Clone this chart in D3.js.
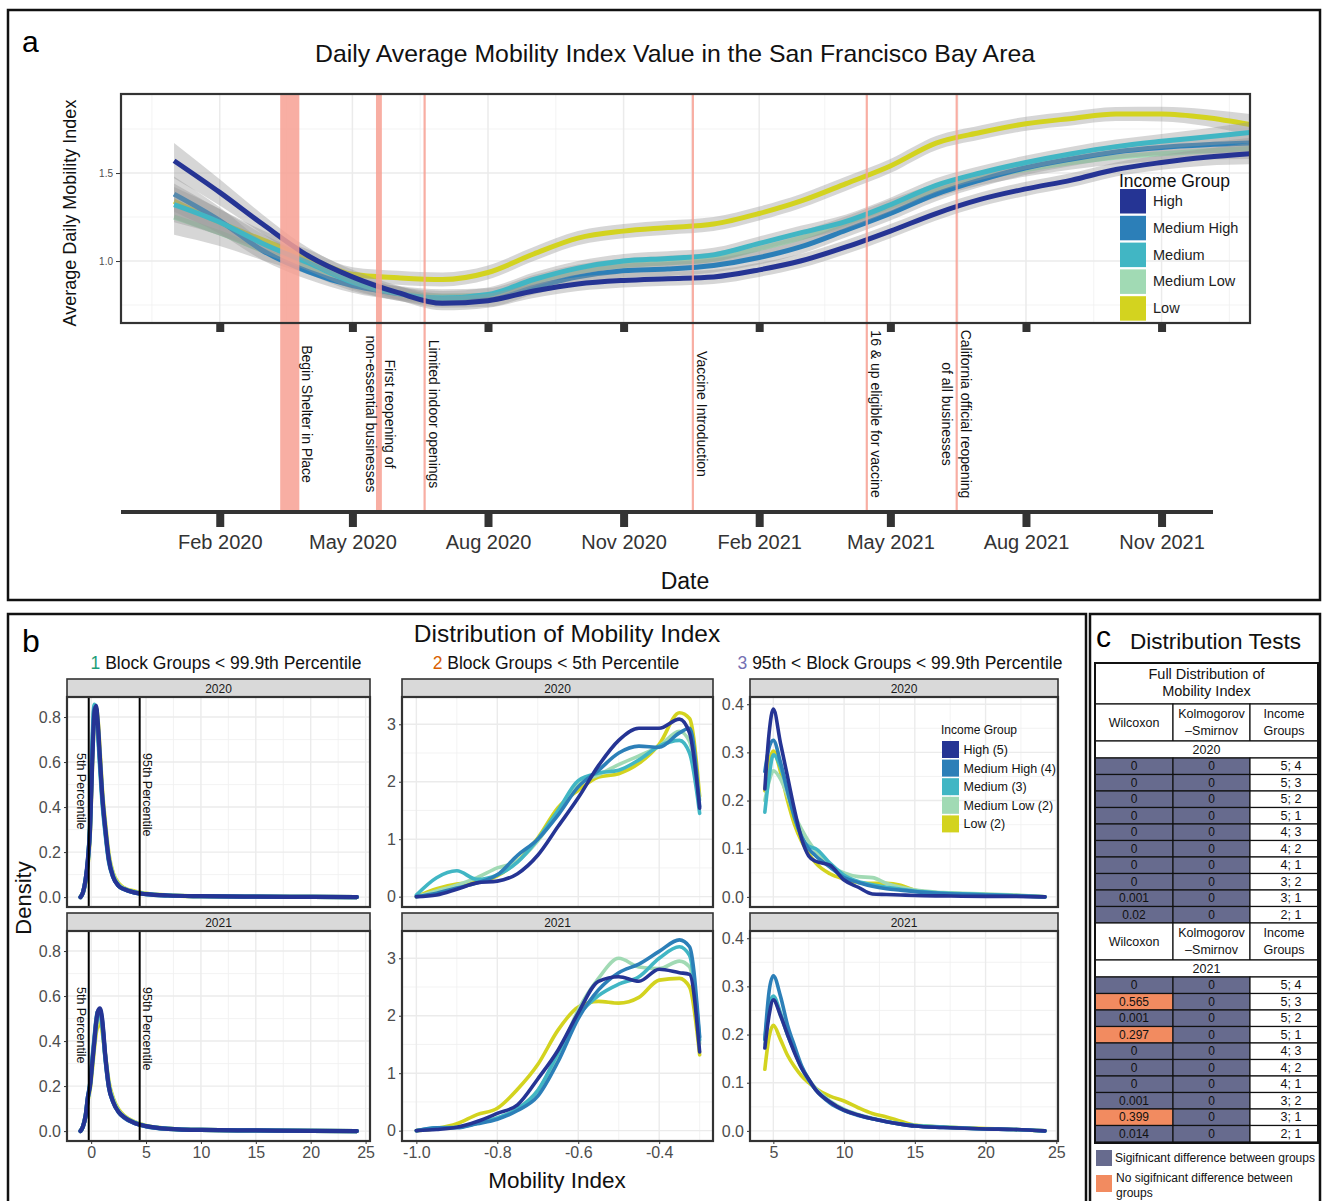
<!DOCTYPE html>
<html>
<head>
<meta charset="utf-8">
<script src="https://cdn.jsdelivr.net/npm/d3@7"></script>
<style>
body{margin:0;background:#fff}
text{font-family:"Liberation Sans",Arial,Helvetica,sans-serif}
</style>
</head>
<body>
<svg id="fig" width="1322" height="1201"></svg>
<script>
// ---------- shared ----------
var groups=["High","Medium High","Medium","Medium Low","Low"]
var groupColors=["#253494","#2c7fb8","#41b6c4","#a1dab4","#d3d31f"]
var groupLabelsB=["High (5)","Medium High (4)","Medium (3)","Medium Low (2)","Low (2)"]

// ---------- panel a : smoothed daily mobility ----------
var mobDates=["2020-01-01","2020-02-01","2020-03-01","2020-04-01","2020-05-01","2020-06-01","2020-07-01","2020-08-01","2020-09-01","2020-10-01","2020-11-01","2020-12-01",
  "2021-01-01","2021-02-01","2021-03-01","2021-04-01","2021-05-01","2021-06-01","2021-07-01","2021-08-01","2021-09-01","2021-10-01","2021-11-01","2021-12-01","2021-12-31"]
var mobHigh=[1.57,1.39,1.21,1.03,0.91,0.82,0.76,0.775,0.83,0.87,0.89,0.90,0.91,0.95,1.00,1.08,1.17,1.27,1.35,1.41,1.46,1.52,1.56,1.59,1.61]
var mobMedHigh=[1.38,1.23,1.06,0.94,0.86,0.815,0.775,0.78,0.85,0.91,0.945,0.955,0.975,1.02,1.08,1.175,1.27,1.38,1.46,1.53,1.58,1.62,1.645,1.66,1.67]
var mobMed=[1.32,1.22,1.10,0.99,0.88,0.815,0.79,0.81,0.895,0.96,1.00,1.015,1.035,1.10,1.16,1.225,1.32,1.43,1.50,1.56,1.61,1.65,1.68,1.705,1.73]
var mobMedLow=[1.25,1.16,1.06,0.97,0.87,0.82,0.80,0.805,0.88,0.94,0.975,0.99,1.01,1.07,1.13,1.215,1.31,1.40,1.47,1.52,1.56,1.59,1.61,1.625,1.64]
var mobLow=[1.34,1.22,1.12,1.02,0.925,0.905,0.895,0.935,1.04,1.13,1.17,1.19,1.21,1.27,1.34,1.44,1.54,1.67,1.73,1.78,1.81,1.835,1.835,1.815,1.775]
var mobCI=[0.10,0.075,0.055,0.045,0.04,0.04,0.04,0.04,0.04,0.04,0.04,0.04,0.04,0.04,0.04,0.04,0.04,0.04,0.04,0.04,0.04,0.04,0.042,0.048,0.06]
var mobYTicks=[1.0,1.5]
var dateTicks=["2020-02-01","2020-05-01","2020-08-01","2020-11-01","2021-02-01","2021-05-01","2021-08-01","2021-11-01"]
var dateTickLabels=["Feb 2020","May 2020","Aug 2020","Nov 2020","Feb 2021","May 2021","Aug 2021","Nov 2021"]
var eventStart=["2020-03-13","2020-05-17","2020-06-19","2020-12-18","2021-04-15","2021-06-15"]
var eventEnd=["2020-03-26","2020-05-21","2020-06-19","2020-12-18","2021-04-15","2021-06-15"]
var eventLabels=[["Begin Shelter in Place"],["First reopening of","non-essential businesses"],["Limited indoor openings"],["Vaccine Introduction"],["16 & up eligible for vaccine"],["California official reopening","of all businesses"]]

// ---------- panel b : densities (series order = groups) ----------
var d1x=[-0.97,-0.75,-0.5,-0.3,-0.1,0.1,0.3,0.45,0.6,0.8,1.0,1.3,1.6,2.0,2.5,3.0,4.0,5.0,7.0,10,15,20,24.2]
var d1y2020=[
 [0,0.02,0.08,0.17,0.30,0.60,0.82,0.85,0.78,0.62,0.46,0.30,0.17,0.09,0.05,0.035,0.02,0.013,0.007,0.004,0.002,0.001,0],
 [0,0.02,0.08,0.16,0.31,0.63,0.84,0.84,0.76,0.60,0.45,0.29,0.17,0.09,0.05,0.035,0.02,0.013,0.007,0.004,0.002,0.001,0],
 [0,0.02,0.08,0.16,0.33,0.67,0.855,0.83,0.74,0.58,0.43,0.28,0.16,0.09,0.05,0.035,0.02,0.013,0.007,0.004,0.002,0.001,0],
 [0,0.02,0.08,0.16,0.31,0.64,0.84,0.83,0.76,0.61,0.46,0.30,0.18,0.10,0.055,0.038,0.022,0.014,0.008,0.004,0.002,0.001,0],
 [0,0.02,0.07,0.15,0.29,0.60,0.82,0.84,0.79,0.64,0.48,0.32,0.19,0.105,0.06,0.04,0.025,0.016,0.008,0.004,0.002,0.001,0]]
var d1y2021=[
 [0,0.02,0.07,0.15,0.20,0.30,0.40,0.48,0.53,0.545,0.50,0.33,0.20,0.13,0.085,0.062,0.035,0.022,0.010,0.005,0.003,0.001,0],
 [0,0.02,0.07,0.15,0.21,0.31,0.41,0.48,0.53,0.54,0.49,0.32,0.20,0.13,0.085,0.06,0.035,0.021,0.010,0.005,0.003,0.001,0],
 [0,0.02,0.07,0.15,0.21,0.32,0.42,0.49,0.53,0.53,0.48,0.32,0.20,0.13,0.085,0.062,0.036,0.022,0.010,0.005,0.003,0.001,0],
 [0,0.02,0.07,0.14,0.20,0.30,0.40,0.46,0.50,0.51,0.47,0.33,0.21,0.14,0.09,0.065,0.038,0.023,0.011,0.005,0.003,0.001,0],
 [0,0.02,0.07,0.14,0.19,0.28,0.38,0.44,0.47,0.48,0.45,0.33,0.22,0.145,0.095,0.068,0.04,0.024,0.011,0.005,0.003,0.001,0]]
var d2x=[-1.0,-0.95,-0.9,-0.85,-0.8,-0.75,-0.7,-0.65,-0.6,-0.55,-0.5,-0.45,-0.4,-0.35,-0.325,-0.3]
var d2y2020=[
 [0,0.03,0.13,0.24,0.27,0.40,0.72,1.22,1.72,2.28,2.72,2.93,2.93,3.09,2.85,1.54],
 [0,0.06,0.15,0.24,0.38,0.72,1.0,1.42,1.91,2.2,2.5,2.62,2.6,2.85,2.93,1.57],
 [0.03,0.33,0.45,0.3,0.38,0.6,1.0,1.5,2.02,2.15,2.2,2.38,2.62,2.72,2.5,1.45],
 [0,0.1,0.2,0.33,0.5,0.62,0.97,1.47,1.95,2.12,2.3,2.45,2.62,2.88,2.7,1.68],
 [0,0.14,0.22,0.25,0.36,0.62,1.02,1.55,1.85,2.08,2.14,2.32,2.65,3.2,3.1,1.75]]
var d2y2021=[
 [0,0.02,0.06,0.16,0.3,0.45,0.9,1.4,2.05,2.6,2.68,2.6,2.81,2.75,2.72,1.37],
 [0,0.05,0.05,0.12,0.2,0.35,0.6,1.2,1.95,2.45,2.75,2.9,3.12,3.32,3.2,1.63],
 [0,0.05,0.06,0.13,0.22,0.38,0.7,1.35,2.0,2.35,2.55,2.68,3.0,3.2,3.05,1.58],
 [0,0.04,0.06,0.13,0.22,0.38,0.7,1.3,2.1,2.65,3.0,2.85,2.82,2.95,2.85,1.52],
 [0,0.04,0.12,0.28,0.39,0.72,1.15,1.75,2.15,2.25,2.22,2.32,2.62,2.65,2.5,1.32]]
var d3x=[4.4,4.7,5.0,5.5,6,6.5,7,7.5,8,9,10,11,12,13,14,15,17,20,22,24.2]
var d3y2020=[
 [0.224,0.34,0.39,0.32,0.25,0.18,0.12,0.085,0.074,0.066,0.035,0.02,0.006,0.005,0.004,0.003,0.002,0.001,0.001,0],
 [0.26,0.31,0.325,0.28,0.22,0.165,0.125,0.1,0.085,0.062,0.04,0.03,0.022,0.017,0.014,0.011,0.007,0.004,0.002,0],
 [0.176,0.25,0.295,0.27,0.22,0.165,0.125,0.105,0.1,0.07,0.045,0.032,0.025,0.02,0.016,0.012,0.008,0.005,0.003,0],
 [0.2,0.24,0.262,0.245,0.21,0.17,0.14,0.115,0.095,0.065,0.05,0.042,0.04,0.028,0.02,0.014,0.009,0.006,0.004,0],
 [0.22,0.28,0.303,0.26,0.2,0.15,0.115,0.09,0.07,0.048,0.037,0.03,0.028,0.028,0.024,0.014,0.008,0.005,0.003,0]]
var d3y2021=[
 [0.172,0.24,0.272,0.24,0.2,0.162,0.13,0.107,0.085,0.06,0.043,0.033,0.025,0.019,0.014,0.01,0.007,0.004,0.003,0],
 [0.19,0.29,0.322,0.28,0.22,0.176,0.135,0.107,0.085,0.058,0.042,0.032,0.025,0.019,0.014,0.01,0.007,0.004,0.003,0],
 [0.19,0.26,0.28,0.245,0.2,0.165,0.13,0.105,0.085,0.06,0.043,0.033,0.025,0.019,0.014,0.011,0.008,0.004,0.003,0],
 [0.18,0.25,0.275,0.24,0.2,0.165,0.132,0.107,0.088,0.062,0.045,0.034,0.026,0.02,0.015,0.011,0.008,0.004,0.003,0],
 [0.128,0.195,0.219,0.19,0.157,0.133,0.114,0.1,0.088,0.072,0.062,0.048,0.036,0.029,0.02,0.012,0.008,0.005,0.003,0]]
var d1XTicks=[0,5,10,15,20,25], d1YTicks=[0,0.2,0.4,0.6,0.8]
var d2XTicks=[-1.0,-0.8,-0.6,-0.4], d2YTicks=[0,1,2,3]
var d3XTicks=[5,10,15,20,25], d3YTicks=[0,0.1,0.2,0.3,0.4]
var colNums=["1","2","3"]
var colNumColors=["#1b9e77","#d95f02","#7570b3"]
var colTitles=[" Block Groups < 99.9th Percentile"," Block Groups < 5th Percentile"," 95th < Block Groups < 99.9th Percentile"]
var years=["2020","2021"]
var pctValues=[-0.22,4.42]
var pctLabels=["5th Percentile","95th Percentile"]

// ---------- panel c : tests ----------
var pairs=["5; 4","5; 3","5; 2","5; 1","4; 3","4; 2","4; 1","3; 2","3; 1","2; 1"]
var wil2020=["0","0","0","0","0","0","0","0","0.001","0.02"]
var ks2020=["0","0","0","0","0","0","0","0","0","0"]
var wil2021=["0","0.565","0.001","0.297","0","0","0","0.001","0.399","0.014"]
var ks2021=["0","0","0","0","0","0","0","0","0","0"]

var svg=d3.select("#fig")
var parse=d3.timeParse("%Y-%m-%d")

// frames
svg.append("rect").attr("x",8).attr("y",10).attr("width",1312).attr("height",590).attr("fill","none").attr("stroke","#111").attr("stroke-width",2.5)
svg.append("rect").attr("x",8).attr("y",614).attr("width",1078).attr("height",600).attr("fill","none").attr("stroke","#111").attr("stroke-width",2.5)
svg.append("rect").attr("x",1090).attr("y",614).attr("width",230).attr("height",600).attr("fill","none").attr("stroke","#111").attr("stroke-width",2.5)

// ================= PANEL A =================
var xA=d3.scaleTime().domain([parse("2019-11-26"),parse("2021-12-31")]).range([121,1250])
var yA=d3.scaleLinear().domain([0.648,1.949]).range([323,94])
var ga=svg.append("g")
ga.append("text").attr("x",22).attr("y",52).attr("font-size",30).text("a")
ga.append("text").attr("x",675).attr("y",62).attr("text-anchor","middle").attr("font-size",24.8).attr("fill","#111")
  .text("Daily Average Mobility Index Value in the San Francisco Bay Area")

ga.append("defs").append("clipPath").attr("id","clipA").append("rect")
  .attr("x",121).attr("y",94).attr("width",1129).attr("height",229)
var plotA=ga.append("g").attr("clip-path","url(#clipA)")
plotA.append("rect").attr("x",121).attr("y",94).attr("width",1129).attr("height",229).attr("fill","#fff")

// grid
var tickD=dateTicks.map(parse)
var ext=[d3.timeMonth.offset(tickD[0],-3)].concat(tickD,[d3.timeMonth.offset(tickD[tickD.length-1],3)])
var minorD=[]
for(var i=0;i<ext.length-1;i++) minorD.push(new Date((+ext[i]+ +ext[i+1])/2))
plotA.selectAll(".vmin").data(minorD).enter().append("line")
  .attr("x1",d=>xA(d)).attr("x2",d=>xA(d)).attr("y1",94).attr("y2",323).attr("stroke","#f0f0f0").attr("stroke-width",0.8)
plotA.selectAll(".hmin").data([0.75,1.25,1.75]).enter().append("line")
  .attr("x1",121).attr("x2",1250).attr("y1",d=>yA(d)).attr("y2",d=>yA(d)).attr("stroke","#f0f0f0").attr("stroke-width",0.8)
plotA.selectAll(".vmaj").data(tickD).enter().append("line")
  .attr("x1",d=>xA(d)).attr("x2",d=>xA(d)).attr("y1",94).attr("y2",323).attr("stroke","#ebebeb").attr("stroke-width",1.5)
plotA.selectAll(".hmaj").data(mobYTicks).enter().append("line")
  .attr("x1",121).attr("x2",1250).attr("y1",d=>yA(d)).attr("y2",d=>yA(d)).attr("stroke","#ebebeb").attr("stroke-width",1.5)

// event lines (under the curves, extend down to lower axis)
var evG=ga.append("g")
eventStart.forEach(function(s,i){
  var x0=xA(parse(s)), x1=xA(parse(eventEnd[i]))
  var w=Math.max(x1-x0,2.2)
  evG.append("rect").attr("x",(x0+x1)/2-w/2).attr("y",94).attr("width",w).attr("height",418)
    .attr("fill","#f7a093").attr("opacity",0.85)
})

var mobSeries=[mobHigh,mobMedHigh,mobMed,mobMedLow,mobLow]
var mDates=mobDates.map(parse)
var area=d3.area().x((d,i)=>xA(mDates[i])).y0((d,i)=>yA(d-mobCI[i])).y1((d,i)=>yA(d+mobCI[i])).curve(d3.curveMonotoneX)
var lineA=d3.line().x((d,i)=>xA(mDates[i])).y(d=>yA(d)).curve(d3.curveMonotoneX)
;[3,4,1,2,0].forEach(function(k){
  plotA.append("path").datum(mobSeries[k]).attr("d",area).attr("fill","#999").attr("opacity",0.4)
  plotA.append("path").datum(mobSeries[k]).attr("d",lineA).attr("fill","none")
    .attr("stroke",groupColors[k]).attr("stroke-width",5)
})

// legend
ga.append("text").attr("x",1119).attr("y",187).attr("font-size",17.5).attr("fill","#111").text("Income Group")
groups.forEach(function(g,i){
  var y=189+i*26.8
  ga.append("rect").attr("x",1120).attr("y",y).attr("width",26).attr("height",24.5).attr("fill",groupColors[i])
  ga.append("text").attr("x",1153).attr("y",y+17).attr("font-size",14.5).attr("fill","#222").text(g)
})

ga.append("rect").attr("x",121).attr("y",94).attr("width",1129).attr("height",229).attr("fill","none").attr("stroke","#333").attr("stroke-width",2.2)

// y axis
var yAx=ga.append("g").attr("transform","translate(121,0)")
  .call(d3.axisLeft(yA).tickValues(mobYTicks).tickSize(5).tickPadding(3).tickFormat(d3.format(".1f")))
yAx.select(".domain").remove()
yAx.selectAll("line").attr("stroke","#333")
yAx.selectAll("text").attr("font-size",10).attr("fill","#4d4d4d").attr("font-family",null)
ga.append("text").attr("transform","translate(76,213) rotate(-90)").attr("text-anchor","middle")
  .attr("font-size",18).attr("fill","#111").text("Average Daily Mobility Index")

// ticks right under plot
var topTicks=ga.append("g").attr("transform","translate(0,323)")
  .call(d3.axisBottom(xA).tickValues(tickD).tickSize(9).tickFormat(""))
topTicks.select(".domain").remove()
topTicks.selectAll("line").attr("stroke","#333").attr("stroke-width",8)

// lower date axis
ga.append("line").attr("x1",121).attr("x2",1213).attr("y1",512).attr("y2",512).attr("stroke","#333").attr("stroke-width",4)
var botAx=ga.append("g").attr("transform","translate(0,512)")
  .call(d3.axisBottom(xA).tickValues(tickD).tickSize(15).tickPadding(8).tickFormat((d,i)=>dateTickLabels[i]))
botAx.select(".domain").remove()
botAx.selectAll("line").attr("stroke","#333").attr("stroke-width",8)
botAx.selectAll("text").attr("font-size",20).attr("fill","#333").attr("font-family",null)
ga.append("text").attr("x",685).attr("y",589).attr("text-anchor","middle").attr("font-size",23).attr("fill","#111").text("Date")

// event labels
eventLabels.forEach(function(lines,i){
  var x0=xA(parse(eventStart[i])), x1=xA(parse(eventEnd[i]))
  var xr=Math.max(x1,(x0+x1)/2+1.1)+3
  lines.forEach(function(t,j){
    ga.append("text").attr("transform","translate("+(xr-j*19)+",414) rotate(90)")
      .attr("text-anchor","middle").attr("font-size",14).attr("fill","#111").text(t)
  })
})

// ================= PANEL B =================
var gb=svg.append("g")
gb.append("text").attr("x",22).attr("y",652).attr("font-size",32).text("b")
gb.append("text").attr("x",567).attr("y",642).attr("text-anchor","middle").attr("font-size",24.5).attr("fill","#111").text("Distribution of Mobility Index")

var rowsB=[{strip:679,top:697,bottom:907},{strip:913,top:931,bottom:1141}]
var cols=[
  {left:67,right:370,cx:226,xDom:[-2.2,25.4],yDom:[-0.044,0.889],xs:d1x,data:[d1y2020,d1y2021],xT:d1XTicks,yT:d1YTicks,xM:[2.5,7.5,12.5,17.5,22.5],yM:[0.1,0.3,0.5,0.7],xF:d3.format("d"),yF:d3.format(".1f"),lw:4.2},
  {left:402,right:713,cx:556,xDom:[-1.0355,-0.267],yDom:[-0.18,3.475],xs:d2x,data:[d2y2020,d2y2021],xT:d2XTicks,yT:d2YTicks,xM:[-0.9,-0.7,-0.5,-0.3],yM:[0.5,1.5,2.5],xF:d=>d.toFixed(1),yF:d3.format("d"),lw:3.6},
  {left:750,right:1058,cx:900,xDom:[3.35,25.12],yDom:[-0.021,0.415],xs:d3x,data:[d3y2020,d3y2021],xT:d3XTicks,yT:d3YTicks,xM:[7.5,12.5,17.5,22.5],yM:[0.05,0.15,0.25,0.35],xF:d3.format("d"),yF:d3.format(".1f"),lw:3.6}
]

cols.forEach(function(c,ci){
  var x=d3.scaleLinear().domain(c.xDom).range([c.left,c.right])
  var w=c.right-c.left
  var sub=gb.append("text").attr("x",c.cx).attr("y",669).attr("text-anchor","middle").attr("font-size",17.5).attr("fill","#111")
  sub.append("tspan").attr("fill",colNumColors[ci]).text(colNums[ci])
  sub.append("tspan").text(colTitles[ci])

  rowsB.forEach(function(r,ri){
    var y=d3.scaleLinear().domain(c.yDom).range([r.bottom,r.top])
    var g=gb.append("g")
    g.append("rect").attr("x",c.left).attr("y",r.top).attr("width",w).attr("height",r.bottom-r.top).attr("fill","#fff")
    g.selectAll(".xm").data(c.xM).enter().append("line").attr("x1",d=>x(d)).attr("x2",d=>x(d)).attr("y1",r.top).attr("y2",r.bottom).attr("stroke","#f0f0f0").attr("stroke-width",0.8)
    g.selectAll(".ym").data(c.yM).enter().append("line").attr("x1",c.left).attr("x2",c.right).attr("y1",d=>y(d)).attr("y2",d=>y(d)).attr("stroke","#f0f0f0").attr("stroke-width",0.8)
    g.selectAll(".xj").data(c.xT).enter().append("line").attr("x1",d=>x(d)).attr("x2",d=>x(d)).attr("y1",r.top).attr("y2",r.bottom).attr("stroke","#ebebeb").attr("stroke-width",1.4)
    g.selectAll(".yj").data(c.yT).enter().append("line").attr("x1",c.left).attr("x2",c.right).attr("y1",d=>y(d)).attr("y2",d=>y(d)).attr("stroke","#ebebeb").attr("stroke-width",1.4)

    // strip
    g.append("rect").attr("x",c.left).attr("y",r.strip).attr("width",w).attr("height",18).attr("fill","#d9d9d9").attr("stroke","#333").attr("stroke-width",1.6)
    g.append("text").attr("x",c.left+w/2).attr("y",r.strip+13.5).attr("text-anchor","middle").attr("font-size",12).attr("fill","#1a1a1a").text(years[ri])

    var line=d3.line().x((d,i)=>x(c.xs[i])).y(d=>y(d)).curve(d3.curveMonotoneX)
    ;[4,3,2,1,0].forEach(function(k){
      g.append("path").datum(c.data[ri][k]).attr("d",line).attr("fill","none")
        .attr("stroke",groupColors[k]).attr("stroke-width",c.lw).attr("stroke-linejoin","round").attr("stroke-linecap","round")
    })

    if(ci==0){
      pctValues.forEach(function(v,k){
        g.append("line").attr("x1",x(v)).attr("x2",x(v)).attr("y1",r.top).attr("y2",r.bottom).attr("stroke","#000").attr("stroke-width",2)
        var bx=k==0?x(v)-12:x(v)+3
        g.append("text").attr("transform","translate("+bx+","+(r.top+56)+") rotate(90)")
          .attr("font-size",12.5).attr("fill","#111").text(pctLabels[k])
      })
    }
    if(ci==2&&ri==0){
      g.append("text").attr("x",941).attr("y",734).attr("font-size",12).attr("fill","#111").text("Income Group")
      groupLabelsB.forEach(function(t,k){
        var yy=741+k*18.6
        g.append("rect").attr("x",942).attr("y",yy).attr("width",17).attr("height",17).attr("fill",groupColors[k])
        g.append("text").attr("x",963.5).attr("y",yy+13).attr("font-size",12.5).attr("fill","#111").text(t)
      })
    }

    g.append("rect").attr("x",c.left).attr("y",r.top).attr("width",w).attr("height",r.bottom-r.top).attr("fill","none").attr("stroke","#333").attr("stroke-width",2.2)

    var ya=g.append("g").attr("transform","translate("+c.left+",0)")
      .call(d3.axisLeft(y).tickValues(c.yT).tickSize(3).tickPadding(3).tickFormat(c.yF))
    ya.select(".domain").remove()
    ya.selectAll("line").attr("stroke","#333")
    ya.selectAll("text").attr("font-size",16).attr("fill","#4d4d4d").attr("font-family",null)
    if(ri==1){
      var xa=g.append("g").attr("transform","translate(0,"+r.bottom+")")
        .call(d3.axisBottom(x).tickValues(c.xT).tickSize(3).tickPadding(3).tickFormat(c.xF))
      xa.select(".domain").remove()
      xa.selectAll("line").attr("stroke","#333")
      xa.selectAll("text").attr("font-size",16).attr("fill","#4d4d4d").attr("font-family",null)
    }
  })
})
gb.append("text").attr("transform","translate(31,898) rotate(-90)").attr("text-anchor","middle").attr("font-size",22).attr("fill","#111").text("Density")
gb.append("text").attr("x",557).attr("y",1188).attr("text-anchor","middle").attr("font-size",22.5).attr("fill","#111").text("Mobility Index")

// ================= PANEL C =================
var gc=svg.append("g")
gc.append("text").attr("x",1096).attr("y",647).attr("font-size",30).text("c")
gc.append("text").attr("x",1130).attr("y",649).attr("font-size",22.5).attr("fill","#111").text("Distribution Tests")

var cx=[1095,1173,1250,1318]
var sigCol="#676b8e", nsCol="#f28b60"
function cell(x0,x1,y0,y1,fill,txt,fs){
  gc.append("rect").attr("x",x0).attr("y",y0).attr("width",x1-x0).attr("height",y1-y0).attr("fill",fill).attr("stroke","#111").attr("stroke-width",1.2)
  if(txt!==undefined&&txt!==null){
    var t=[].concat(txt)
    t.forEach(function(s,i){
      gc.append("text").attr("x",(x0+x1)/2).attr("y",(y0+y1)/2+4.2+(i-(t.length-1)/2)*16.5)
        .attr("text-anchor","middle").attr("font-size",fs||12).attr("fill","#111").text(s)
    })
  }
}
cell(cx[0],cx[3],663,704,"#fff",["Full Distribution of","Mobility Index"],14.5)
function block(top,yr,wil,ks){
  cell(cx[0],cx[1],top,top+37,"#fff","Wilcoxon",12.5)
  cell(cx[1],cx[2],top,top+37,"#fff",["Kolmogorov","\u2013Smirnov"],12.5)
  cell(cx[2],cx[3],top,top+37,"#fff",["Income","Groups"],12.5)
  cell(cx[0],cx[3],top+37,top+54,"#fff",yr,12.5)
  var rh=16.5, t0=top+54
  pairs.forEach(function(p,i){
    var y0=t0+i*rh
    cell(cx[0],cx[1],y0,y0+rh,(+wil[i]>0.05)?nsCol:sigCol,wil[i],12)
    cell(cx[1],cx[2],y0,y0+rh,(+ks[i]>0.05)?nsCol:sigCol,ks[i],12)
    cell(cx[2],cx[3],y0,y0+rh,"#fff",null)
    gc.append("text").attr("x",1291).attr("y",y0+rh/2+4.2).attr("text-anchor","middle").attr("font-size",12.5).attr("fill","#111").text(p)
  })
}
block(704,"2020",wil2020,ks2020)
block(923,"2021",wil2021,ks2021)
gc.append("rect").attr("x",cx[0]).attr("y",663).attr("width",cx[3]-cx[0]).attr("height",480).attr("fill","none").attr("stroke","#111").attr("stroke-width",2)

gc.append("rect").attr("x",1096).attr("y",1150).attr("width",16).attr("height",16).attr("fill",sigCol)
gc.append("text").attr("x",1115).attr("y",1162).attr("font-size",12).attr("fill","#111").text("Sigifnicant difference between groups")
gc.append("rect").attr("x",1096).attr("y",1175).attr("width",16).attr("height",17).attr("fill",nsCol)
gc.append("text").attr("x",1116).attr("y",1182).attr("font-size",12).attr("fill","#111").text("No sigifnicant difference between")
gc.append("text").attr("x",1116).attr("y",1197).attr("font-size",12).attr("fill","#111").text("groups")
</script>
</body>
</html>
